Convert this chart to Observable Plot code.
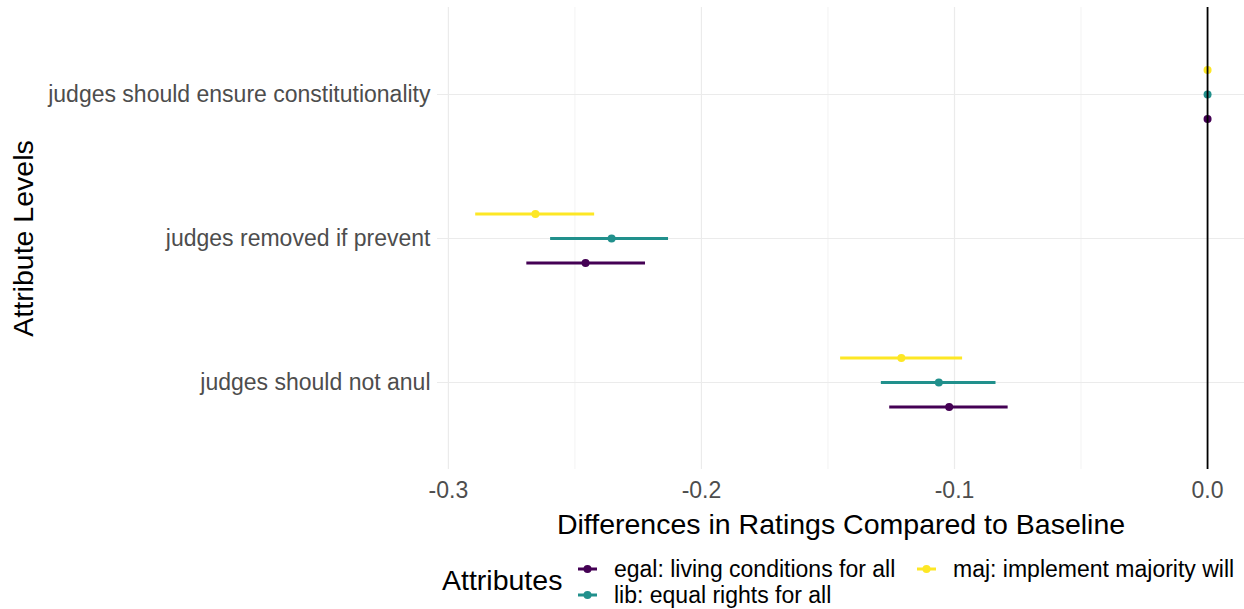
<!DOCTYPE html>
<html>
<head>
<meta charset="utf-8">
<script src="https://cdn.jsdelivr.net/npm/d3@7"></script>
<script src="https://cdn.jsdelivr.net/npm/@observablehq/plot@0.6"></script>
<style>
  html, body { margin: 0; padding: 0; background: #ffffff; }
  #chart { width: 1244px; font-family: "Liberation Sans", Arial, sans-serif; }
  #chart svg { display: block; }
</style>
</head>
<body>
<div id="chart"></div>
<script>
// Attribute levels (top to bottom) and the attributes compared within each level
const levels = [
  "judges should ensure constitutionality",
  "judges removed if prevent",
  "judges should not anul"
];
const attributes = [
  "egal: living conditions for all",
  "lib: equal rights for all",
  "maj: implement majority will"
];
const colours = ["#440154", "#21908C", "#FDE725"];

// Estimated differences and 95% interval bounds, one value per level
const egalEst = [0, -0.2458, -0.1021];
const egalLo  = [0, -0.2690, -0.1256];
const egalHi  = [0, -0.2221, -0.0788];

const libEst = [0, -0.2355, -0.1062];
const libLo  = [0, -0.2596, -0.1289];
const libHi  = [0, -0.2130, -0.0836];

const majEst = [0, -0.2656, -0.1210];
const majLo  = [0, -0.2892, -0.1450];
const majHi  = [0, -0.2422, -0.0968];

const majorTicks = [-0.3, -0.2, -0.1, 0];
const minorTicks = [-0.25, -0.15, -0.05];

const xTitle = "Differences in Ratings Compared to Baseline";
const yTitle = "Attribute Levels";
const legendTitle = "Attributes";

// Long table built from the arrays above
const series = [
  [egalEst, egalLo, egalHi],
  [libEst, libLo, libHi],
  [majEst, majLo, majHi]
];
const rows = attributes.flatMap((attribute, i) =>
  levels.map((level, j) => ({
    attribute,
    level,
    est: series[i][0][j],
    lo: series[i][1][j],
    hi: series[i][2][j]
  }))
);

// vertical dodge of each attribute inside its level row
const dodge = [24.5, 0, -24.5];

const font = "'Liberation Sans', Arial, sans-serif";

const chart = Plot.plot({
  width: 1244,
  height: 545,
  marginLeft: 437,
  marginRight: 0,
  marginTop: 7,
  marginBottom: 76,
  style: { fontFamily: font, background: "#ffffff" },
  x: { domain: [-0.3043, 0.0146] },
  y: { type: "point", domain: levels, padding: 0.6 },
  color: { domain: attributes, range: colours },
  marks: [
    Plot.gridX({ ticks: minorTicks, stroke: "#ebebeb", strokeOpacity: 1, strokeWidth: 0.6 }),
    Plot.gridX({ ticks: majorTicks, stroke: "#ebebeb", strokeOpacity: 1, strokeWidth: 1.2 }),
    Plot.gridY({ stroke: "#ebebeb", strokeOpacity: 1, strokeWidth: 1.2 }),
    ...attributes.flatMap((a, i) => {
      const sub = rows.filter(d => d.attribute === a);
      return [
        Plot.ruleY(sub.filter(d => d.hi > d.lo), {
          y: "level", x1: "lo", x2: "hi", stroke: "attribute", strokeWidth: 3, dy: dodge[i]
        }),
        Plot.dot(sub, { x: "est", y: "level", fill: "attribute", r: 4, dy: dodge[i] })
      ];
    }),
    Plot.ruleX([0], { stroke: "#000000", strokeWidth: 1.8 }),
    Plot.axisX({
      ticks: majorTicks, tickFormat: d => d.toFixed(1), tickSize: 0, tickPadding: 12,
      fontSize: 23, fill: "#4d4d4d", label: null
    }),
    Plot.axisY({ tickSize: 0, tickPadding: 7, fontSize: 23, fill: "#4d4d4d", label: null }),
    Plot.text([xTitle], {
      text: d => d, frameAnchor: "bottom", dy: 55, fontSize: 28.5, fill: "#000000",
      textAnchor: "middle", lineAnchor: "middle"
    }),
    Plot.text([yTitle], {
      text: d => d, frameAnchor: "left", dx: -414, rotate: -90, fontSize: 28.5, fill: "#000000",
      textAnchor: "middle", lineAnchor: "middle"
    })
  ]
});
document.getElementById("chart").appendChild(chart);

// Legend below the plot: line-and-point keys in two columns
const legend = d3.create("svg")
  .attr("width", 1244)
  .attr("height", 64)
  .style("font-family", font);

legend.append("text")
  .attr("x", 442).attr("y", 45)
  .attr("font-size", 28.5).attr("fill", "#000000")
  .text(legendTitle);

const keyPos = [[578, 24], [578, 50], [917, 24]];
attributes.forEach((a, i) => {
  const [kx, ky] = keyPos[i];
  const g = legend.append("g").attr("transform", `translate(${kx},${ky})`);
  g.append("line").attr("x1", 0).attr("x2", 19).attr("y1", 0).attr("y2", 0)
    .attr("stroke", colours[i]).attr("stroke-width", 3);
  g.append("circle").attr("cx", 9.5).attr("cy", 0).attr("r", 4).attr("fill", colours[i]);
  g.append("text").attr("x", 36).attr("y", 0).attr("dy", "0.35em")
    .attr("font-size", 23).attr("fill", "#000000").text(a);
});
document.getElementById("chart").appendChild(legend.node());
</script>
</body>
</html>
